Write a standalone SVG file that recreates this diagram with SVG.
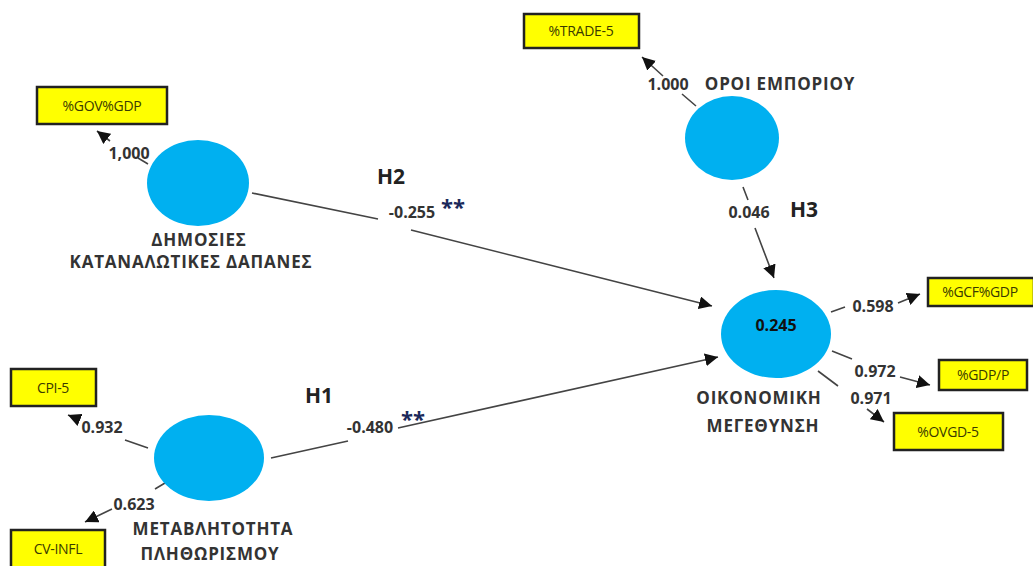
<svg xmlns="http://www.w3.org/2000/svg" width="1033" height="566" viewBox="0 0 1033 566">
<defs>
<marker id="arr" viewBox="0 0 10 10" refX="10" refY="5" markerWidth="13" markerHeight="13" markerUnits="userSpaceOnUse" orient="auto">
<path d="M0,0 L10,5 L0,10 Z" fill="#111"/>
</marker>
</defs>
<style>
.lv{fill:#00B0F0}
.box{fill:#FFFF00;stroke:#222;stroke-width:2.5}
.bt{font-family:"Open Sans","Liberation Sans",sans-serif;font-size:14px;fill:#3a3a00;text-anchor:middle;letter-spacing:-0.3px}
.lab{font-family:"Open Sans","Liberation Sans",sans-serif;font-size:16px;font-weight:bold;fill:#333;text-anchor:middle}
.nm{font-family:"Open Sans","Liberation Sans",sans-serif;font-size:17px;font-weight:bold;fill:#333;text-anchor:middle;letter-spacing:0.8px}
.h{font-family:"Open Sans","Liberation Sans",sans-serif;font-size:21px;font-weight:bold;fill:#222;text-anchor:middle}
.st{font-family:"Open Sans","Liberation Sans",sans-serif;font-size:22px;font-weight:bold;fill:#1a2a5a}
.c{fill:none;stroke:#444;stroke-width:1.6}
</style>
<rect width="1033" height="566" fill="#fff"/>
<g id="connectors">
<path class="c" d="M252,193 L378,219 M411,230 L712,306" marker-end="url(#arr)"/>
<path class="c" d="M271,458 L348,441 M398,428 L718,357" marker-end="url(#arr)"/>
<path class="c" d="M743,187 L748,200 M755,228 L774,278" marker-end="url(#arr)"/>
<path class="c" d="M148,164 L138,158 M110,141 L97,131" marker-end="url(#arr)"/>
<path class="c" d="M696,106 L682,94 M663,76 L642,57" marker-end="url(#arr)"/>
<path class="c" d="M148,448 L125,440 M80,420 L68,415" marker-end="url(#arr)"/>
<path class="c" d="M165,483 L155,489 M112,509 L85,522" marker-end="url(#arr)"/>
<path class="c" d="M831,312 L845,307 M898,303 L920,294" marker-end="url(#arr)"/>
<path class="c" d="M832,351 L852,359 M900,377 L930,385" marker-end="url(#arr)"/>
<path class="c" d="M818,371 L838,386 M867,409 L884,422" marker-end="url(#arr)"/>
</g>
<g id="gov">
<rect class="box" x="37" y="87" width="130" height="37"/>
<text class="bt" x="102" y="111">%GOV%GDP</text>
</g>
<g id="trade">
<rect class="box" x="524" y="14" width="115" height="34"/>
<text class="bt" x="581" y="36">%TRADE-5</text>
</g>
<g id="cpi">
<rect class="box" x="11" y="369" width="85" height="37"/>
<text class="bt" x="53" y="393">CPI-5</text>
</g>
<g id="cvinfl">
<rect class="box" x="11" y="530" width="94" height="38"/>
<text class="bt" x="58" y="554">CV-INFL</text>
</g>
<g id="gcf">
<rect class="box" x="928" y="278" width="106" height="28"/>
<text class="bt" x="980" y="297">%GCF%GDP</text>
</g>
<g id="gdpp">
<rect class="box" x="939" y="360" width="88" height="30"/>
<text class="bt" x="983" y="380">%GDP/P</text>
</g>
<g id="ovgd">
<rect class="box" x="894" y="413" width="109" height="37"/>
<text class="bt" x="948" y="437">%OVGD-5</text>
</g>
<g id="dimosies">
<ellipse class="lv" cx="198" cy="183" rx="51" ry="43"/>
<text class="nm" x="199" y="246">ΔΗΜΟΣΙΕΣ</text>
<text class="nm" x="191" y="268">ΚΑΤΑΝΑΛΩΤΙΚΕΣ ΔΑΠΑΝΕΣ</text>
</g>
<g id="oroi">
<ellipse class="lv" cx="732" cy="138" rx="47" ry="42"/>
<text class="nm" x="780" y="90">ΟΡΟΙ ΕΜΠΟΡΙΟΥ</text>
</g>
<g id="metavl">
<ellipse class="lv" cx="209" cy="458" rx="55" ry="43"/>
<text class="nm" x="213" y="535">ΜΕΤΑΒΛΗΤΟΤΗΤΑ</text>
<text class="nm" x="210" y="560">ΠΛΗΘΩΡΙΣΜΟΥ</text>
</g>
<g id="oikon">
<ellipse class="lv" cx="776" cy="334" rx="55" ry="44"/>
<text class="lab" x="776" y="331" style="fill:#111">0.245</text>
<text class="nm" x="759" y="404">ΟΙΚΟΝΟΜΙΚΗ</text>
<text class="nm" x="763" y="432">ΜΕΓΕΘΥΝΣΗ</text>
</g>
<g id="labels">
<text class="lab" x="129" y="159">1,000</text>
<text class="lab" x="668" y="90">1.000</text>
<text class="lab" x="102" y="433">0.932</text>
<text class="lab" x="134" y="510">0.623</text>
<text class="lab" x="873" y="312">0.598</text>
<text class="lab" x="875" y="377">0.972</text>
<text class="lab" x="871" y="404">0.971</text>
<text class="lab" x="749" y="218">0.046</text>
<text class="lab" x="412" y="218">-0.255</text>
<text class="lab" x="370" y="433">-0.480</text>
<text class="h" x="391" y="184">H2</text>
<text class="h" x="319" y="403">H1</text>
<text class="h" x="804" y="217">H3</text>
<text class="st" x="441" y="215">**</text>
<text class="st" x="401" y="427">**</text>
</g>
</svg>
